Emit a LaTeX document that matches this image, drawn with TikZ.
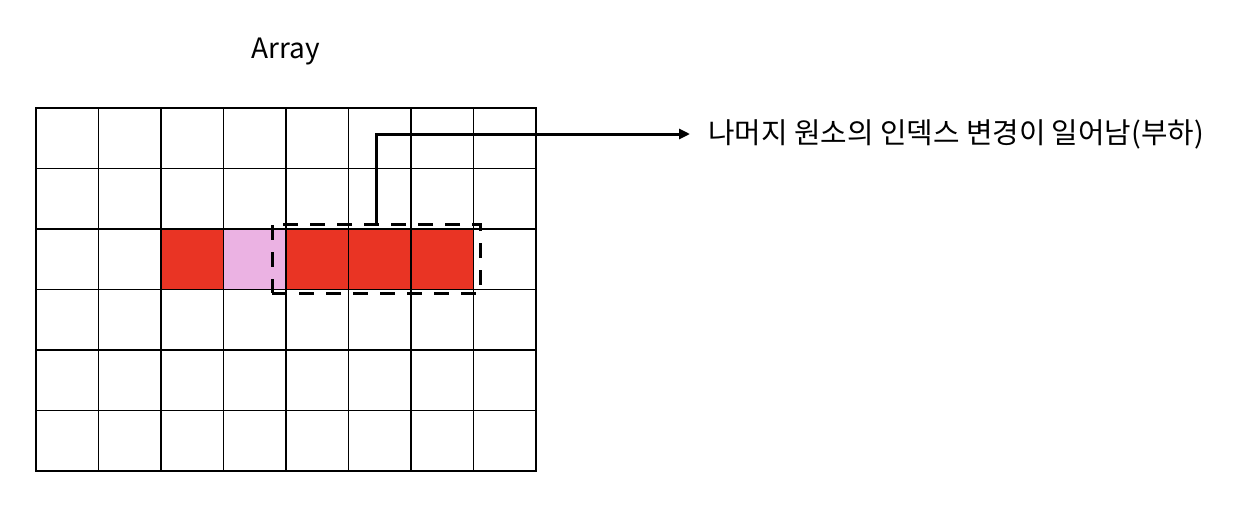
\documentclass[tikz,border=0pt]{standalone}
\usepackage{fontspec}
\setmainfont{Noto Sans CJK KR}
\usetikzlibrary{arrows.meta,positioning,backgrounds}
\definecolor{cellRed}{HTML}{E93424}
\definecolor{cellPink}{HTML}{EBB2E3}

\begin{document}
\begin{tikzpicture}[x=1pt,y=-1pt,
    cell/.style={
      rectangle, draw=black, line width=1.5pt, inner sep=0pt, outer sep=0pt,
      minimum width=62.5pt, minimum height=60.5pt, anchor=north west
    },
    selbox/.style={
      rectangle, draw=black, line width=3pt, dash pattern=on 15pt off 12pt,
      minimum width=208pt, minimum height=69pt, inner sep=0pt
    },
    note/.style={font=\fontsize{28.8pt}{32pt}\selectfont, inner sep=0pt, anchor=west},
    title/.style={font=\fontsize{28pt}{32pt}\selectfont, inner sep=0pt},
    arrow/.style={-{Triangle[length=11pt,width=10pt]}, draw=black, line width=3pt}
  ]
  \useasboundingbox (0,0) rectangle (1246,530);

  % grid of the array
  \foreach \c in {0,...,7}
    \foreach \r in {0,...,5}
      \node[cell] (c\c\r) at ({36+62.5*\c},{108+60.5*\r}) {};

  % filled cells of the third row
  \begin{scope}[on background layer]
    \foreach \c/\col in {2/cellRed,3/cellPink,4/cellRed,5/cellRed,6/cellRed}
      \fill[\col] (c\c2.north west) rectangle (c\c2.south east);
  \end{scope}

  \node[title] (title) at (286,52) {Array};
  \node[selbox] (sel) at (376,258.5) {};
  \node[note] (note) at (708,134) {나머지 원소의 인덱스 변경이 일어남(부하)};

  \draw[arrow, shorten >=18pt] (sel.north) |- (note.west);
\end{tikzpicture}
\end{document}
